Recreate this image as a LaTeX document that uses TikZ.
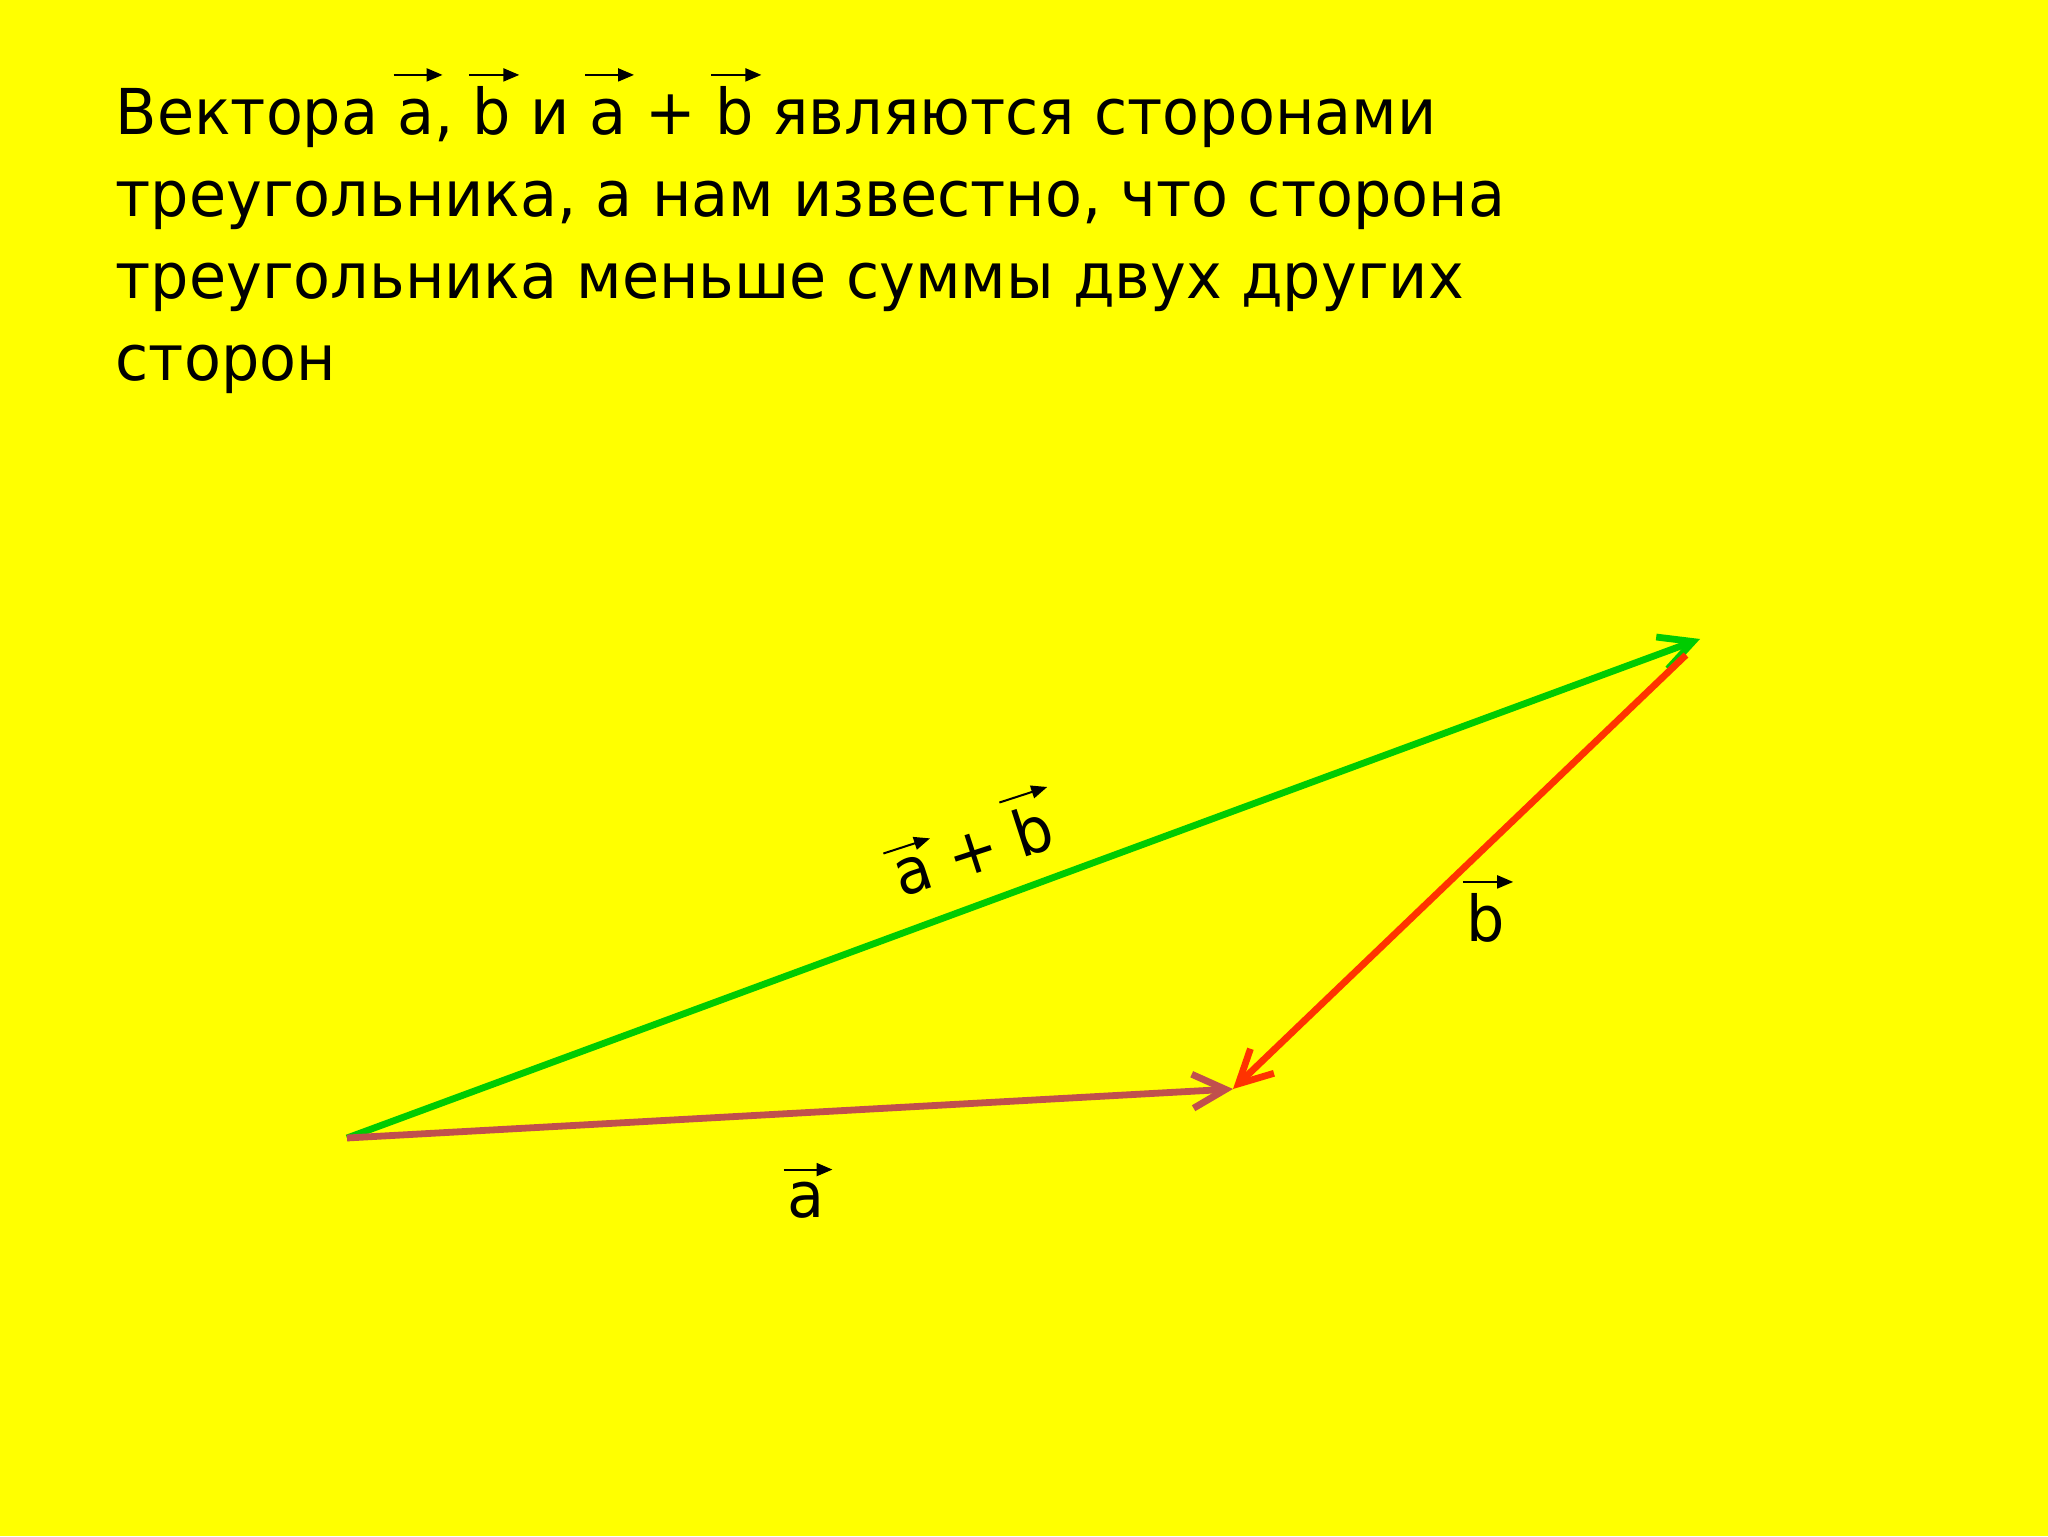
\documentclass[tikz,border=0pt]{standalone}
\usepackage{fontspec}
\setmainfont[FakeStretch=0.955]{DejaVu Sans}
\usetikzlibrary{arrows.meta}

\newlength{\du}
\setlength{\du}{1mm}

\definecolor{slideyellow}{rgb}{1.000000, 1.000000, 0.000000}
\definecolor{sumgreen}{rgb}{0.000000, 0.800000, 0.000000}
\definecolor{bred}{rgb}{1.000000, 0.200000, 0.000000}
\definecolor{abrown}{rgb}{0.752941, 0.313725, 0.301961}

\tikzset{
  side/.style={line width=0.68\du, -{Straight Barb[length=3.3mm,width=3.4mm]}},
  vecarrow/.style={black, overlay, line width=0.2\du, -{Triangle[length=1.6mm,width=1.3mm]}},
  titleline/.style={anchor=base west, inner sep=0pt, font=\fontsize{18pt}{21pt}\selectfont},
  veclabel/.style={anchor=base, inner sep=0pt, font=\fontsize{18pt}{21pt}\selectfont}
}

% letter with an arrow over it
\newcommand{\vect}[1]{\tikz[baseline=(v.base)]{\node[inner sep=0pt, outer sep=0pt, anchor=base] (v) {#1};
\draw[vecarrow] ([xshift=-0.4\du,yshift=1.2\du]v.north west) -- ([xshift=0.8\du,yshift=1.2\du]v.north east);}}

\begin{document}
\begin{tikzpicture}
\fill[slideyellow] (0\du,0\du) rectangle (204.8\du,153.6\du);
\useasboundingbox (0\du,0\du) rectangle (204.8\du,153.6\du);
% setfont left to latex
\node[titleline] (title1) at (11.5\du,140.1\du) {Вектора \vect{a\vphantom{b}}, \vect{b} и \vect{a\vphantom{b}} + \vect{b} являются сторонами};
\node[titleline] (title2) at (11.5\du,131.9\du) {треугольника, а нам известно, что сторона};
\node[titleline] (title3) at (11.5\du,123.7\du) {треугольника меньше суммы двух других};
\node[titleline] (title4) at (11.5\du,115.5\du) {сторон};
% triangle corners
\coordinate (O) at (34.7\du,39.8\du);
\coordinate (A) at (123.3\du,44.7\du);
\coordinate (B) at (170.0\du,89.7\du);
\coordinate (Bstart) at (168.6\du,88.1\du);
\draw[side, sumgreen] (O) -- (B);
\draw[side, abrown] (O) -- (A);
\draw[side, bred] (Bstart) -- (A);
% setfont left to latex
\node[veclabel, rotate=18] (labelab) at (98.0\du,66.4\du) {\vect{a} + \vect{b}};
\node[veclabel] (labelb) at (148.6\du,59.4\du) {\vect{b}};
\node[veclabel] (labela) at (80.6\du,31.9\du) {\vect{a}};
\end{tikzpicture}
\end{document}
